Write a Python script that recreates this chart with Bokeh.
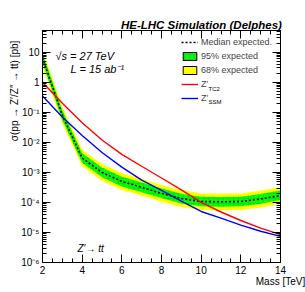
from bokeh.plotting import figure
from bokeh.models import (FixedTicker, LogAxis, LinearAxis, Label, Legend, LegendItem,
                          ColumnDataSource, CustomJSTickFormatter)
from bokeh.embed import file_html
from bokeh.resources import INLINE

# ---- data ----
mass = [2, 3, 4, 5, 6, 7, 8, 9, 10, 11, 12, 13, 14]
median = [6.5, 0.08, 3.0e-3, 1.0e-3, 5.0e-4, 3.2e-4, 2.0e-4, 1.35e-4, 1.07e-4, 1.05e-4, 1.07e-4, 1.3e-4, 1.7e-4]
green_hi = [9.4, 0.116, 4.3e-3, 1.45e-3, 7.2e-4, 4.6e-4, 2.9e-4, 1.95e-4, 1.55e-4, 1.52e-4, 1.55e-4, 1.9e-4, 2.5e-4]
green_lo = [4.5, 0.055, 2.1e-3, 6.9e-4, 3.4e-4, 2.2e-4, 1.4e-4, 9.3e-5, 7.4e-5, 7.2e-5, 7.4e-5, 9.0e-5, 1.2e-4]
yellow_hi = [12.4, 0.15, 5.7e-3, 1.9e-3, 9.5e-4, 6.1e-4, 3.8e-4, 2.6e-4, 2.0e-4, 2.0e-4, 2.0e-4, 2.5e-4, 3.2e-4]
yellow_lo = [3.4, 0.042, 1.6e-3, 5.3e-4, 2.6e-4, 1.7e-4, 1.05e-4, 7.1e-5, 5.6e-5, 5.5e-5, 5.6e-5, 6.8e-5, 9.0e-5]
z_tc2 = [1.0, 0.2, 0.045, 0.012, 4.0e-3, 1.6e-3, 6.5e-4, 2.6e-4, 1.0e-4, 4.8e-5, 2.5e-5, 1.4e-5, 8.5e-6]
z_ssm = [0.35, 0.07, 0.017, 4.6e-3, 1.5e-3, 5.5e-4, 2.5e-4, 1.1e-4, 5.0e-5, 3.0e-5, 1.75e-5, 1.1e-5, 7.4e-6]

x_ticks = [2, 4, 6, 8, 10, 12, 14]
x_minor = [2 + 0.5 * i for i in range(25)]
y_ticks = [1e-6, 1e-5, 1e-4, 1e-3, 1e-2, 1e-1, 1, 10]
y_minor = [m * 10.0 ** e for e in range(-6, 2) for m in range(1, 10)]

FONT = "Liberation Sans"
NAN = float("nan")

src = ColumnDataSource(dict(mass=mass, median=median, g_hi=green_hi, g_lo=green_lo,
                            y_hi=yellow_hi, y_lo=yellow_lo, tc2=z_tc2, ssm=z_ssm))

p = figure(width=305, height=292, x_range=(2, 14), y_range=(1e-6, 53), y_axis_type="log",
           output_backend="svg", toolbar_location=None,
           min_border_left=42, min_border_right=25, min_border_top=30, min_border_bottom=30)
p.xgrid.visible = False
p.ygrid.visible = False
p.outline_line_color = "black"
p.background_fill_color = "white"
p.border_fill_color = "white"

# bands
p.varea(x="mass", y1="y_lo", y2="y_hi", source=src, fill_color="#ffff00")
p.varea(x="mass", y1="g_lo", y2="g_hi", source=src, fill_color="#00ff00",
        hatch_pattern="+", hatch_color="#22bb22", hatch_alpha=0.45, hatch_scale=5, hatch_weight=1)
med = p.line(x="mass", y="median", source=src, line_color="black", line_width=1.6, line_dash="2 2")
r_tc2 = p.line(x="mass", y="tc2", source=src, line_color="#ff0000", line_width=1.4)
r_ssm = p.line(x="mass", y="ssm", source=src, line_color="#0000ff", line_width=1.4)

# legend-only swatches (no visible data)
empty = ColumnDataSource(dict(l=[NAN], r=[NAN], t=[NAN], b=[NAN]))
g_dummy = p.quad(left="l", right="r", top="t", bottom="b", source=empty, fill_color="#00ff00",
                 hatch_pattern="+", hatch_color="#22bb22", hatch_alpha=0.45, hatch_scale=5,
                 line_color="black", line_width=1)
y_dummy = p.quad(left="l", right="r", top="t", bottom="b", source=empty, fill_color="#ffff00",
                 line_color="black", line_width=1)

# axes styling
def style_axis(ax, ticker):
    ax.ticker = ticker
    ax.major_tick_in = 8
    ax.major_tick_out = 0
    ax.minor_tick_in = 4
    ax.minor_tick_out = 0
    ax.axis_line_color = "black"
    ax.major_tick_line_color = "black"
    ax.minor_tick_line_color = "black"
    ax.major_label_text_font = FONT
    ax.major_label_text_font_size = "10px"
    ax.major_label_text_color = "black"
    ax.axis_label_text_font = FONT
    ax.axis_label_text_font_size = "10px"
    ax.axis_label_text_font_style = "normal"
    ax.axis_label_text_color = "black"

xt = FixedTicker(ticks=x_ticks, minor_ticks=x_minor)
yt = FixedTicker(ticks=y_ticks, minor_ticks=y_minor)
xa = p.xaxis[0]
ya = p.yaxis[0]
style_axis(xa, xt)
style_axis(ya, yt)
xa.major_label_standoff = 3
ya.major_label_standoff = 3
xa.axis_label = "Mass [TeV]"
xa.axis_label_standoff = -1
xa.axis_label_align = "end"
# leading no-break spaces push the visible label toward the axis end (ROOT style)
ya.axis_label = "\u00a0" * 40 + "\u03c3(pp \u2192 Z\u2032/Z\u2033 \u2192 tt) [pb]"
ya.axis_label_standoff = -2
ya.formatter = CustomJSTickFormatter(code="""
const e = Math.round(Math.log10(tick));
if (e == 0) return '1';
if (e == 1) return '10';
const sup = {'-':'\u207b','0':'\u2070','1':'\u00b9','2':'\u00b2','3':'\u00b3','4':'\u2074','5':'\u2075','6':'\u2076','7':'\u2077','8':'\u2078','9':'\u2079'};
return '10' + String(e).split('').map(c => sup[c]).join('');
""")

blank = CustomJSTickFormatter(code="return '';")
top_ax = LinearAxis(formatter=blank)
style_axis(top_ax, FixedTicker(ticks=x_ticks, minor_ticks=x_minor))
top_ax.major_label_text_font_size = "1px"
top_ax.major_label_standoff = 2
top_ax.axis_label = "\u00a0" * 25 + "HE-LHC Simulation (Delphes)"
top_ax.axis_label_standoff = 0
top_ax.axis_label_text_font_size = "11.5px"
top_ax.axis_label_text_font_style = "bold italic"
right_ax = LogAxis(formatter=blank)
style_axis(right_ax, FixedTicker(ticks=y_ticks, minor_ticks=y_minor))
right_ax.major_label_text_font_size = "1px"
p.add_layout(top_ax, "above")
p.add_layout(right_ax, "right")

# legend
legend = Legend(items=[
    LegendItem(label="Median expected.", renderers=[med]),
    LegendItem(label="95% expected", renderers=[g_dummy]),
    LegendItem(label="68% expected", renderers=[y_dummy]),
    LegendItem(label="Z\u2032", renderers=[r_tc2]),
    LegendItem(label="Z\u2032", renderers=[r_ssm]),
], location=(139, 159), padding=0, margin=0, spacing=4, glyph_width=17, glyph_height=10,
    label_height=10, label_standoff=3, border_line_alpha=0, background_fill_alpha=0,
    label_text_font=FONT, label_text_font_size="9px")
p.add_layout(legend)

def lab(text, x, y, size, style="normal", align="left", baseline="middle", angle=0):
    p.add_layout(Label(text=text, x=x, y=y, x_units="screen", y_units="screen",
                       text_font=FONT, text_font_size=size, text_font_style=style,
                       text_align=align, text_baseline=baseline, angle=angle, text_color="black"))

lab("TC2", 166, 174, "6px")
lab("SSM", 166, 161, "6px")
lab("\u221as = 27 TeV", 13, 207, "11px", style="italic")
lab("L = 15 ab\u207b\u00b9", 28, 194, "11px", style="italic")
lab("Z\u2032\u2192 tt", 35, 14, "10px", style="italic")

open("out.html", "w").write(file_html(p, INLINE))
